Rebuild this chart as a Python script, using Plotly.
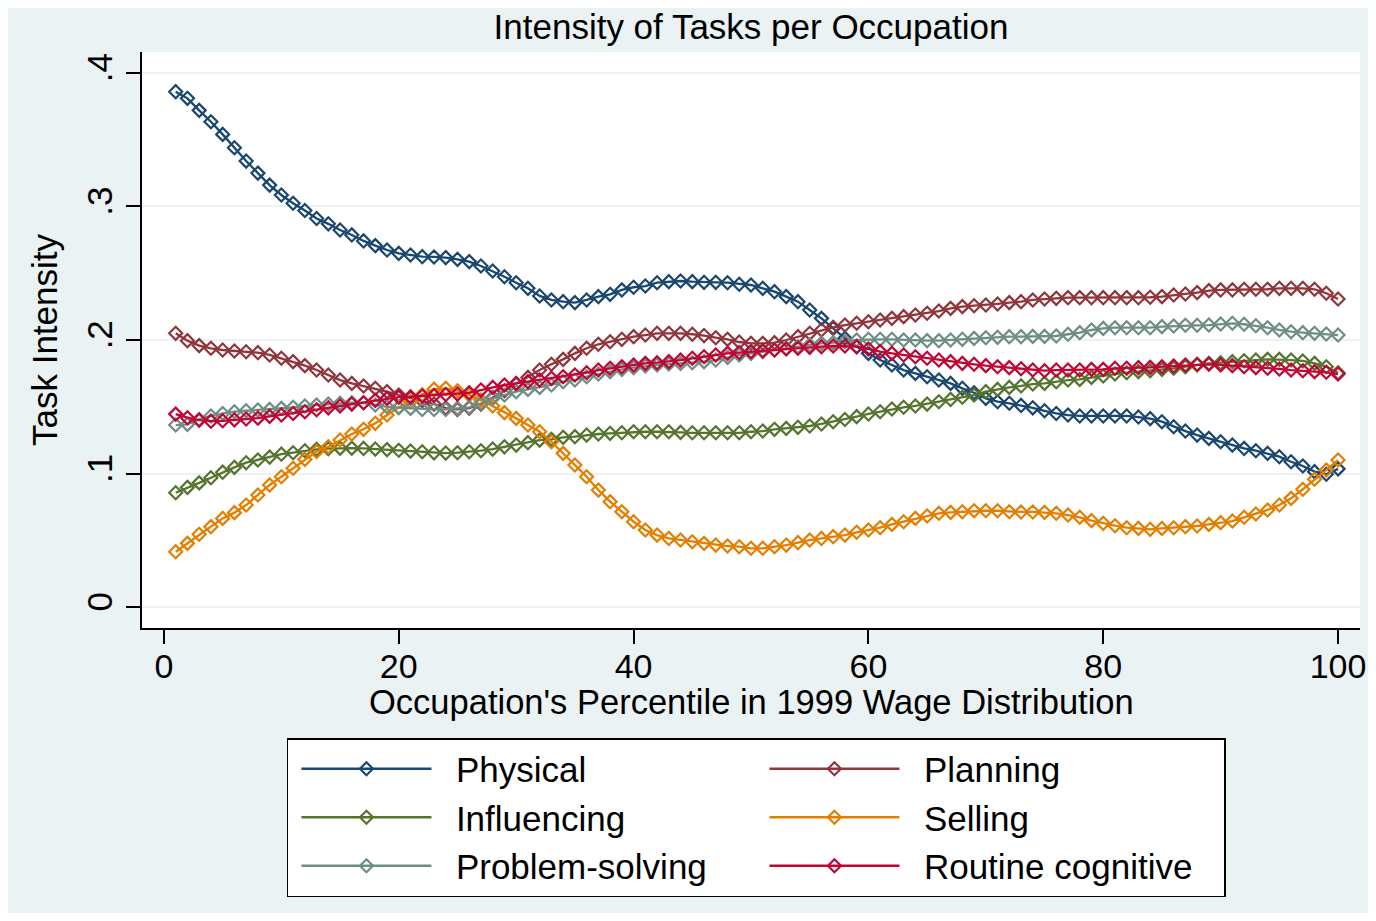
import plotly.graph_objects as go

# percentile of the 1999 wage distribution
pctile = list(range(1, 101))

physical = [
    0.386, 0.381, 0.372, 0.3635, 0.354, 0.344, 0.334, 0.325, 0.316, 0.3086,
    0.3024, 0.297, 0.291, 0.287, 0.2824, 0.2787, 0.2742, 0.2707, 0.2674, 0.2649,
    0.2637, 0.2624, 0.2622, 0.2617, 0.2604, 0.2587, 0.2554, 0.2517, 0.2474, 0.2429,
    0.2387, 0.233, 0.23, 0.2287, 0.228, 0.23, 0.2325, 0.2342, 0.2375, 0.2395,
    0.2404, 0.2429, 0.2437, 0.2442, 0.2437, 0.2432, 0.2432, 0.2429, 0.2418, 0.2412,
    0.2387, 0.2362, 0.2325, 0.2287, 0.2225, 0.2162, 0.2087, 0.2013, 0.195, 0.19,
    0.185, 0.1813, 0.1775, 0.175, 0.1725, 0.17, 0.1675, 0.1638, 0.1605, 0.1563,
    0.1538, 0.1526, 0.151, 0.1492, 0.147, 0.145, 0.1438, 0.1431, 0.1431, 0.1431,
    0.1431, 0.1431, 0.1423, 0.1411, 0.1388, 0.135, 0.1318, 0.1288, 0.1263, 0.1238,
    0.1213, 0.1188, 0.1171, 0.1151, 0.1126, 0.1088, 0.1056, 0.1014, 0.0995, 0.1035,
]

planning = [
    0.205, 0.1995, 0.1958, 0.1938, 0.1925, 0.1918, 0.1912, 0.1905, 0.1888, 0.1863,
    0.1838, 0.1808, 0.1775, 0.1738, 0.170, 0.1675, 0.1655, 0.1638, 0.1613, 0.1588,
    0.1565, 0.1545, 0.152, 0.149, 0.148, 0.149, 0.152, 0.157, 0.162, 0.167,
    0.172, 0.1775, 0.1818, 0.1855, 0.19, 0.1938, 0.1968, 0.1987, 0.2005, 0.2025,
    0.2037, 0.205, 0.205, 0.205, 0.2043, 0.2033, 0.2017, 0.2005, 0.1985, 0.1975,
    0.1975, 0.198, 0.2, 0.2025, 0.205, 0.2075, 0.2095, 0.2112, 0.2125, 0.2137,
    0.215, 0.2162, 0.2175, 0.2187, 0.22, 0.2217, 0.2237, 0.225, 0.2257, 0.2262,
    0.227, 0.228, 0.2287, 0.23, 0.2307, 0.2312, 0.2317, 0.2317, 0.2317, 0.2317,
    0.2317, 0.2317, 0.2317, 0.232, 0.2325, 0.2337, 0.2345, 0.2355, 0.237, 0.2375,
    0.2375, 0.238, 0.238, 0.238, 0.2387, 0.2387, 0.2387, 0.238, 0.235, 0.2307,
]

influencing = [
    0.0856, 0.0896, 0.093, 0.0968, 0.101, 0.1046, 0.1081, 0.1101, 0.1123, 0.1145,
    0.1156, 0.1171, 0.1181, 0.1186, 0.119, 0.119, 0.1188, 0.1183, 0.1179, 0.1174,
    0.1168, 0.1163, 0.1155, 0.1153, 0.1156, 0.1163, 0.1171, 0.1183, 0.12, 0.1213,
    0.1231, 0.125, 0.1256, 0.1271, 0.1276, 0.1288, 0.1296, 0.1301, 0.1305, 0.1313,
    0.1313, 0.1313, 0.1313, 0.1308, 0.1305, 0.1305, 0.1305, 0.1305, 0.1305, 0.1313,
    0.1318, 0.1331, 0.1338, 0.1346, 0.1356, 0.1371, 0.1388, 0.1405, 0.1426, 0.1446,
    0.1463, 0.1483, 0.1496, 0.1506, 0.152, 0.1538, 0.1555, 0.1571, 0.1588, 0.1613,
    0.163, 0.1645, 0.1656, 0.167, 0.1675, 0.1688, 0.17, 0.1705, 0.172, 0.173,
    0.1745, 0.1755, 0.1763, 0.177, 0.178, 0.1788, 0.18, 0.1813, 0.1825, 0.183,
    0.1838, 0.1845, 0.185, 0.1855, 0.1855, 0.185, 0.1843, 0.1825, 0.18, 0.1755,
]

selling = [
    0.0414, 0.0477, 0.0545, 0.0602, 0.0664, 0.0707, 0.0764, 0.0839, 0.0914, 0.0976,
    0.1039, 0.1106, 0.1165, 0.12, 0.1251, 0.1296, 0.1331, 0.1376, 0.1438, 0.1496,
    0.1538, 0.159, 0.1632, 0.1638, 0.162, 0.1588, 0.155, 0.1506, 0.1456, 0.1413,
    0.1363, 0.1313, 0.1238, 0.1151, 0.1064, 0.0976, 0.0876, 0.0789, 0.0714, 0.0639,
    0.0577, 0.0539, 0.0514, 0.0502, 0.0489, 0.0477, 0.0464, 0.0457, 0.0452, 0.044,
    0.044, 0.0452, 0.0464, 0.0482, 0.0502, 0.0514, 0.0527, 0.0539, 0.056, 0.0577,
    0.0594, 0.0619, 0.0639, 0.0664, 0.0682, 0.0702, 0.0709, 0.0714, 0.0721, 0.0721,
    0.0721, 0.0714, 0.0712, 0.0712, 0.0709, 0.0702, 0.0689, 0.0672, 0.0647, 0.0627,
    0.0609, 0.0594, 0.0589, 0.0582, 0.0589, 0.0594, 0.0602, 0.0607, 0.0619, 0.0632,
    0.0644, 0.0672, 0.0697, 0.0727, 0.0764, 0.0814, 0.0882, 0.0957, 0.1026, 0.1101,
]

problem_solving = [
    0.1363, 0.1368, 0.1405, 0.1431, 0.145, 0.1463, 0.147, 0.1476, 0.148, 0.1488,
    0.1496, 0.1506, 0.1513, 0.152, 0.1526, 0.153, 0.153, 0.1513, 0.15, 0.1493,
    0.1488, 0.148, 0.148, 0.148, 0.1488, 0.1496, 0.1526, 0.1563, 0.1588, 0.1613,
    0.163, 0.1645, 0.1663, 0.1688, 0.17, 0.1725, 0.1745, 0.1763, 0.178, 0.1793,
    0.1805, 0.1813, 0.182, 0.1825, 0.183, 0.1838, 0.185, 0.187, 0.1888, 0.19,
    0.1913, 0.1925, 0.1938, 0.195, 0.1963, 0.1975, 0.198, 0.1987, 0.2, 0.2005,
    0.2005, 0.2005, 0.2, 0.2, 0.1995, 0.1995, 0.2, 0.2005, 0.2012, 0.2017,
    0.202, 0.2025, 0.2025, 0.2027, 0.2027, 0.203, 0.2043, 0.2055, 0.2075, 0.2087,
    0.2092, 0.2092, 0.2092, 0.2092, 0.21, 0.2105, 0.211, 0.211, 0.2112, 0.212,
    0.2125, 0.2118, 0.2107, 0.2092, 0.2075, 0.2062, 0.2055, 0.205, 0.2045, 0.2037,
]

routine_cognitive = [
    0.1445, 0.1418, 0.14, 0.1392, 0.1395, 0.1402, 0.1408, 0.1415, 0.1428, 0.1438,
    0.145, 0.1463, 0.1478, 0.1492, 0.1506, 0.152, 0.153, 0.1548, 0.1563, 0.1572,
    0.1575, 0.158, 0.1585, 0.1592, 0.1595, 0.1605, 0.1625, 0.1645, 0.1663, 0.1675,
    0.1688, 0.17, 0.1713, 0.1725, 0.1738, 0.1755, 0.1775, 0.1788, 0.18, 0.1813,
    0.1825, 0.183, 0.1838, 0.185, 0.1863, 0.1875, 0.1888, 0.19, 0.1906, 0.1913,
    0.192, 0.1925, 0.1933, 0.1938, 0.1945, 0.195, 0.1955, 0.1955, 0.195, 0.1933,
    0.1913, 0.19, 0.1888, 0.1875, 0.1863, 0.185, 0.1838, 0.1825, 0.1818, 0.1808,
    0.18, 0.1793, 0.1785, 0.1775, 0.177, 0.1775, 0.1775, 0.1775, 0.178, 0.178,
    0.1788, 0.1788, 0.1793, 0.1795, 0.18, 0.1805, 0.1813, 0.1818, 0.1818, 0.1813,
    0.1808, 0.18, 0.1793, 0.1788, 0.1783, 0.1775, 0.177, 0.1763, 0.1758, 0.1745,
]

y_ticks = [0, 0.1, 0.2, 0.3, 0.4]
y_ticklabels = ["0", ".1", ".2", ".3", ".4"]
x_ticks = [0, 20, 40, 60, 80, 100]

# stata s2color palette
series = [
    ("Physical", physical, "#1A476F"),
    ("Planning", planning, "#90353B"),
    ("Influencing", influencing, "#55752F"),
    ("Selling", selling, "#E37E00"),
    ("Problem-solving", problem_solving, "#6E8E84"),
    ("Routine cognitive", routine_cognitive, "#C10534"),
]

FONT = "Liberation Sans, Arial, sans-serif"
BG = "#EAF2F3"
PAD = "\u00a0\u00a0"  # gap between legend key and label

fig = go.Figure()
for name, vals, col in series:
    fig.add_trace(go.Scatter(
        x=pctile, y=vals, name=PAD + name, mode="lines+markers",
        line=dict(color=col, width=2.3),
        marker=dict(symbol="diamond-open", size=10, color=col, line=dict(color=col, width=2.2)),
    ))

# page body has an 8px margin, so the figure is 16px smaller than the window
fig.update_layout(
    width=1360, height=905,
    margin=dict(l=134, r=8, t=44, b=285),
    paper_bgcolor=BG, plot_bgcolor="white",
    font=dict(family=FONT, color="black", size=35),
    title=dict(text="Intensity of Tasks per Occupation", xref="paper", x=0.5, xanchor="center",
               yref="container", y=1 - 19 / 905, yanchor="middle", font=dict(size=35)),
    showlegend=True,
    legend=dict(
        orientation="h", x=0.119, xanchor="left", y=-0.191, yanchor="top",
        bgcolor="white", bordercolor="black", borderwidth=1.5, indentation=8,
        font=dict(size=35), entrywidth=315, itemwidth=130,
    ),
    annotations=[
        dict(text="Occupation's Percentile in 1999 Wage Distribution", xref="paper", yref="paper",
             x=0.5, y=-74 / 576, xanchor="center", yanchor="middle", showarrow=False,
             font=dict(size=34.5)),
    ],
)

fig.update_xaxes(
    range=[-1.87, 101.87], tickvals=x_ticks, showgrid=False, zeroline=False,
    showline=True, linecolor="black", linewidth=1.5, automargin=False,
    ticks="outside", ticklen=14, tickwidth=1.5, tickcolor="black",
    tickfont=dict(size=34), ticklabeloverflow="allow", ticklabelstandoff=-7,
)
fig.update_yaxes(
    range=[-0.0157, 0.4157], tickvals=y_ticks, ticktext=y_ticklabels, tickangle=-90,
    showgrid=True, gridcolor=BG, gridwidth=2, zeroline=False, automargin=False,
    showline=True, linecolor="black", linewidth=1.5,
    ticks="outside", ticklen=14, tickwidth=1.5, tickcolor="black",
    tickfont=dict(size=35),
    title=dict(text="Task Intensity", font=dict(size=35), standoff=12),
)

fig.write_html("out.html")
